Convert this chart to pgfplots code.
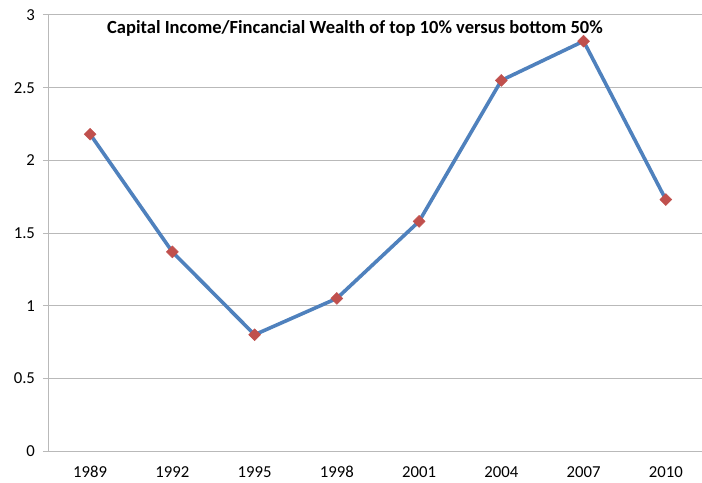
\documentclass[border=0pt]{standalone}
\usepackage{pgfplots}
\pgfplotsset{compat=1.18}
\usepackage{fontspec}
\setmainfont{Carlito}
\definecolor{xlblue}{RGB}{79,129,189}
\definecolor{xlred}{RGB}{192,80,77}
\definecolor{gridgray}{RGB}{185,185,185}
\begin{document}
\begin{tikzpicture}
\useasboundingbox (-49bp,-32bp) rectangle (653bp,451bp);
\begin{axis}[
  at={(0,0)}, anchor=south west,
  scale only axis,
  width=653bp, height=436bp,
  xmin=-0.5, xmax=7.44,
  ymin=0, ymax=3,
  ytick={0,0.5,...,3},
  xtick={0,...,7},
  xticklabels={1989,1992,1995,1998,2001,2004,2007,2010},
  axis x line*=bottom,
  axis y line*=left,
  axis line style={gridgray, line width=1bp},
  ymajorgrids,
  grid style={gridgray, line width=1bp},
  x tick style={draw=none},
  y tick style={gridgray, line width=1bp},
  ytick align=outside,
  major tick length=6bp,
  extra x ticks={-0.5,0.5,1.5,2.5,3.5,4.5,5.5,6.5},
  extra x tick labels={},
  extra x tick style={tick style={draw=gridgray, line width=1bp}, xtick align=outside, major tick length=5bp, grid=none},
  tick label style={font=\fontsize{16.8}{18}\selectfont, black},
  /pgf/number format/assume math mode=true,
  yticklabel style={xshift=-4.5bp},
  xticklabel style={yshift=-12bp},
  clip=false,
]
\addplot[xlblue, line width=3.6bp, mark=square*, mark size=4.2bp,
  mark options={fill=xlred, draw=xlred, line width=0.5pt, rotate=45}]
  coordinates {(0,2.18) (1,1.37) (2,0.80) (3,1.05) (4,1.58) (5,2.55) (6,2.82) (7,1.73)};
\node[font=\bfseries\fontsize{18.6}{22}\selectfont] at (axis cs:3.22,2.91) {Capital Income/Fincancial Wealth of top 10\% versus bottom 50\%};
\end{axis}
\end{tikzpicture}
\end{document}
